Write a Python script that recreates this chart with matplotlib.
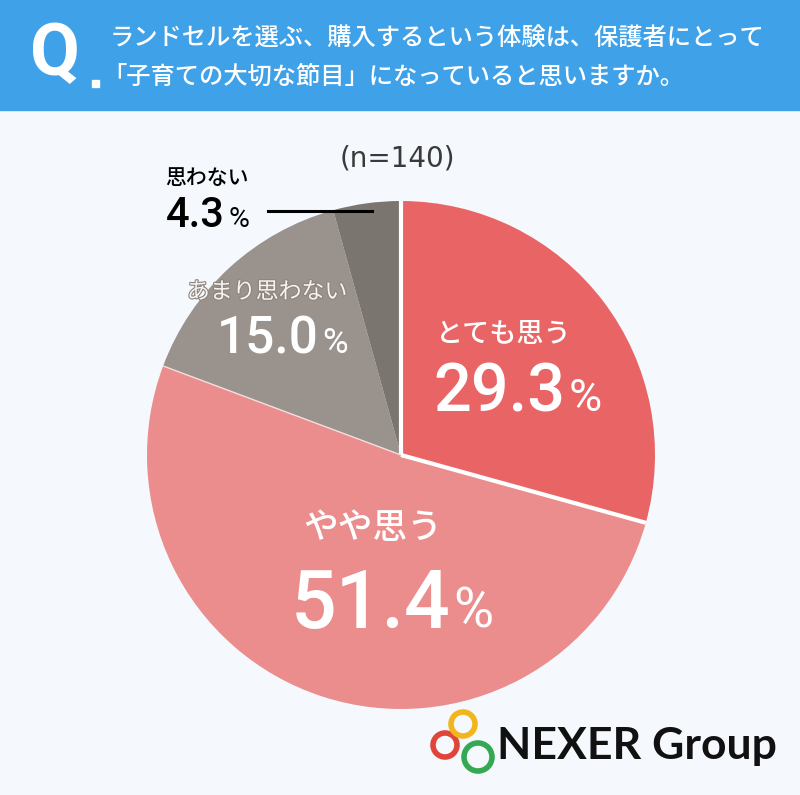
import numpy as np
import matplotlib.pyplot as plt
import matplotlib.patheffects as pe
from matplotlib.patches import Rectangle, Circle

plt.rcParams['font.family'] = ['Noto Sans CJK JP', 'DejaVu Sans']

W, H = 800, 795

title_lines = ["ランドセルを選ぶ、購入するという体験は、保護者にとって",
               "「子育ての大切な節目」になっていると思いますか。"]
sample_note = "(n=140)"

labels = ["とても思う", "やや思う", "あまり思わない", "思わない"]
values = [29.3, 51.4, 15.0, 4.3]
colors = ["#e96464", "#eb8d8d", "#9a928c", "#7b7570"]

fig = plt.figure(figsize=(W / 100, H / 100), dpi=100)
fig.patch.set_facecolor("#f5f9fe")

# background layer (header band)
bg = fig.add_axes([0, 0, 1, 1])
bg.set_xlim(0, W)
bg.set_ylim(H, 0)
bg.axis("off")
bg.add_patch(Rectangle((0, 0), W, 110, color="#3fa1e8", zorder=0))

# pie
cx, cy, r = 401, 455, 254
pax = fig.add_axes([(cx - r) / W, (H - cy - r) / H, 2 * r / W, 2 * r / H])
pax.pie(values, colors=colors, startangle=90, counterclock=False,
        wedgeprops=dict(linewidth=0))
pax.set_xlim(-1, 1)
pax.set_ylim(-1, 1)
pax.axis("off")

# white seams on both sides of the first slice
for ang in [90, 90 - values[0] * 3.6]:
    a = np.deg2rad(ang)
    pax.plot([0, np.cos(a)], [0, np.sin(a)], color="white", lw=3,
             solid_capstyle="butt")
a = np.deg2rad(90 - (values[0] + values[1]) * 3.6)
pax.plot([0, np.cos(a)], [0, np.sin(a)], color="#f0e0df", lw=1,
         solid_capstyle="butt")

# text layer on top
fg = fig.add_axes([0, 0, 1, 1])
fg.set_xlim(0, W)
fg.set_ylim(H, 0)
fg.axis("off")
fg.patch.set_alpha(0)

fg.text(55, 56, "Q", color="white", fontsize=52, fontweight="bold",
        ha="center", va="center", family="Roboto")
fg.add_patch(Rectangle((92, 80), 7, 7, color="white"))
fg.text(110, 39, title_lines[0], color="white", fontsize=17.5,
        fontweight="medium", ha="left", va="center")
fg.text(102, 77, title_lines[1], color="white", fontsize=17.5,
        fontweight="medium", ha="left", va="center")

fg.text(397, 158, sample_note, color="#3a3a3a", fontsize=20,
        family="DejaVu Sans", ha="center", va="center")


def pct_label(x, y, val, size, color, pct_scale=0.68):
    fg.text(x, y, f"{val:.1f}", color=color, fontsize=size,
            fontweight="medium", family="Roboto", ha="right", va="baseline")
    fg.text(x + 3, y, "%", color=color, fontsize=size * pct_scale,
            family="Roboto", ha="left", va="baseline")


# とても思う
fg.text(504, 334, labels[0], color="white", fontsize=19.5,
        fontweight="medium", ha="center", va="center")
pct_label(566, 411, values[0], 48, "white")
# やや思う
fg.text(373, 528, labels[1], color="white", fontsize=25,
        fontweight="medium", ha="center", va="center")
pct_label(450, 628, values[1], 58, "white")
# あまり思わない
fg.text(267, 292, labels[2], color="#f6f3f1", fontsize=16.5,
        ha="center", va="center",
        path_effects=[pe.withStroke(linewidth=1.6, foreground="#8d847e")])
pct_label(319, 353, values[2], 37, "white")
# 思わない
fg.text(165, 178, labels[3], color="black", fontsize=15,
        fontweight="medium", ha="left", va="center")
pct_label(225, 227, values[3], 30, "black")
fg.plot([268, 372], [211, 211], color="black", lw=2.2)

# logo
fg.add_patch(Circle((445, 745), 12, fill=False, ec="#e0453a", lw=4))
fg.add_patch(Circle((463, 724), 12, fill=False, ec="#f2b61c", lw=4))
fg.add_patch(Circle((478, 757), 14, fill=False, ec="#35a853", lw=4))
fg.text(497, 746, "NEXER Group", color="#111111", fontsize=32,
        fontweight="bold", family="Lato", ha="left", va="center")

fig.savefig("out.png", dpi=100, facecolor=fig.get_facecolor())
